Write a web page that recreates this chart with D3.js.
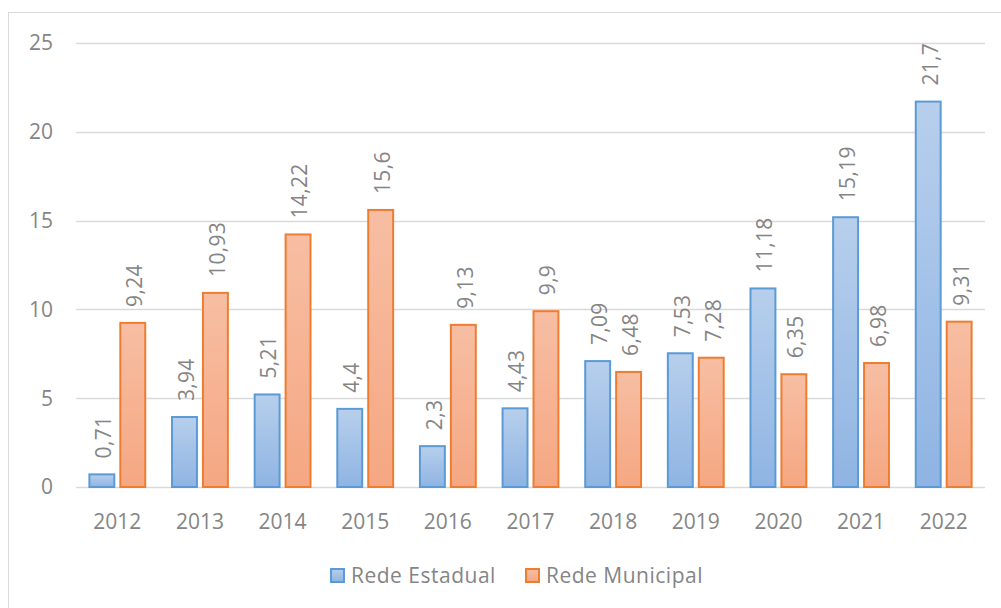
<!DOCTYPE html>
<html>
<head>
<meta charset="utf-8">
<script src="https://cdn.jsdelivr.net/npm/d3@7"></script>
<style>
  body { margin: 0; background: #fff; }
  svg text { font-family: "Open Sans", sans-serif; fill: #858585; }
</style>
</head>
<body>
<svg width="1001" height="608"></svg>
<script>
var years = ["2012","2013","2014","2015","2016","2017","2018","2019","2020","2021","2022"];
var estadual = [0.71, 3.94, 5.21, 4.4, 2.3, 4.43, 7.09, 7.53, 11.18, 15.19, 21.7];
var municipal = [9.24, 10.93, 14.22, 15.6, 9.13, 9.9, 6.48, 7.28, 6.35, 6.98, 9.31];
var seriesNames = ["Rede Estadual", "Rede Municipal"];
var yTicks = [0, 5, 10, 15, 20, 25];

var svg = d3.select("svg"),
    margin = {top: 43, right: 16, bottom: 121, left: 76},
    width = +svg.attr("width") - margin.left - margin.right,
    height = +svg.attr("height") - margin.top - margin.bottom;

var data = years.map(function(y, i) {
  return {year: y, values: [estadual[i], municipal[i]]};
});

var x0 = d3.scaleBand().domain(years).range([0, width]).paddingInner(0.3).paddingOuter(0.15),
    x1 = d3.scaleBand().domain([0, 1]).range([0, x0.bandwidth()]).paddingInner(0.13),
    y = d3.scaleLinear().domain([0, 25]).range([height, 0]);

var strokes = ["#5b9bd5", "#ed7d31"];

// gradients like the excel fills
var defs = svg.append("defs");
var gBlue = defs.append("linearGradient").attr("id", "gBlue")
    .attr("x1", 0).attr("y1", 0).attr("x2", 0).attr("y2", 1);
gBlue.append("stop").attr("offset", "0%").attr("stop-color", "#b7cfec");
gBlue.append("stop").attr("offset", "100%").attr("stop-color", "#8fb4e3");
var gOrange = defs.append("linearGradient").attr("id", "gOrange")
    .attr("x1", 0).attr("y1", 0).attr("x2", 0).attr("y2", 1);
gOrange.append("stop").attr("offset", "0%").attr("stop-color", "#f7bea3");
gOrange.append("stop").attr("offset", "100%").attr("stop-color", "#f5a782");
var fills = ["url(#gBlue)", "url(#gOrange)"];

// outer frame
svg.append("rect")
    .attr("x", 8.5).attr("y", 12.5)
    .attr("width", 1100).attr("height", 700)
    .attr("fill", "none").attr("stroke", "#d9d9d9");

var g = svg.append("g")
    .attr("transform", "translate(" + margin.left + "," + margin.top + ")");

// gridlines
g.append("g").selectAll("line")
  .data(yTicks)
  .enter().append("line")
    .attr("x1", 0).attr("x2", width)
    .attr("y1", function(d) { return Math.round(y(d)) + 0.5; })
    .attr("y2", function(d) { return Math.round(y(d)) + 0.5; })
    .attr("stroke", "#d9d9d9").attr("stroke-width", 1.5);

// y labels
g.append("g").selectAll("text")
  .data(yTicks)
  .enter().append("text")
    .attr("x", -23)
    .attr("y", function(d) { return y(d); })
    .attr("dy", "0.35em")
    .attr("text-anchor", "end")
    .style("font-size", "21px")
    .text(function(d) { return d; });

// x labels
g.append("g").selectAll("text")
  .data(years)
  .enter().append("text")
    .attr("x", function(d) { return x0(d) + x0.bandwidth() / 2; })
    .attr("y", height + 42)
    .attr("text-anchor", "middle")
    .style("font-size", "21px")
    .text(function(d) { return d; });

var groups = g.append("g").selectAll("g")
  .data(data)
  .enter().append("g")
    .attr("transform", function(d) { return "translate(" + x0(d.year) + ",0)"; });

groups.selectAll("rect")
  .data(function(d) { return d.values; })
  .enter().append("rect")
    .attr("x", function(d, i) { return x1(i) + 1; })
    .attr("y", function(d) { return y(d); })
    .attr("width", x1.bandwidth() - 2)
    .attr("height", function(d) { return height - y(d); })
    .attr("fill", function(d, i) { return fills[i]; })
    .attr("stroke", function(d, i) { return strokes[i]; })
    .attr("stroke-width", 2);

groups.selectAll("text")
  .data(function(d) { return d.values; })
  .enter().append("text")
    .attr("transform", function(d, i) {
      return "translate(" + (x1(i) + x1.bandwidth() / 2 + 2) + "," + (y(d) - 16) + ") rotate(-90)";
    })
    .attr("dy", "0.35em")
    .attr("text-anchor", "start")
    .style("font-size", "21px")
    .style("letter-spacing", "0.3px")
    .text(function(d) { return String(d).replace(".", ","); });

// legend
var legend = svg.append("g").selectAll("g")
  .data(seriesNames)
  .enter().append("g")
    .attr("transform", function(d, i) { return "translate(" + (331 + i * 195) + ",569)"; });

legend.append("rect")
    .attr("width", 13).attr("height", 13)
    .attr("fill", function(d, i) { return fills[i]; })
    .attr("stroke", function(d, i) { return strokes[i]; })
    .attr("stroke-width", 2);

legend.append("text")
    .attr("x", 20).attr("y", 7)
    .attr("dy", "0.35em")
    .style("font-size", "21px")
    .style("letter-spacing", "0.5px")
    .text(function(d) { return d; });
</script>
</body>
</html>
